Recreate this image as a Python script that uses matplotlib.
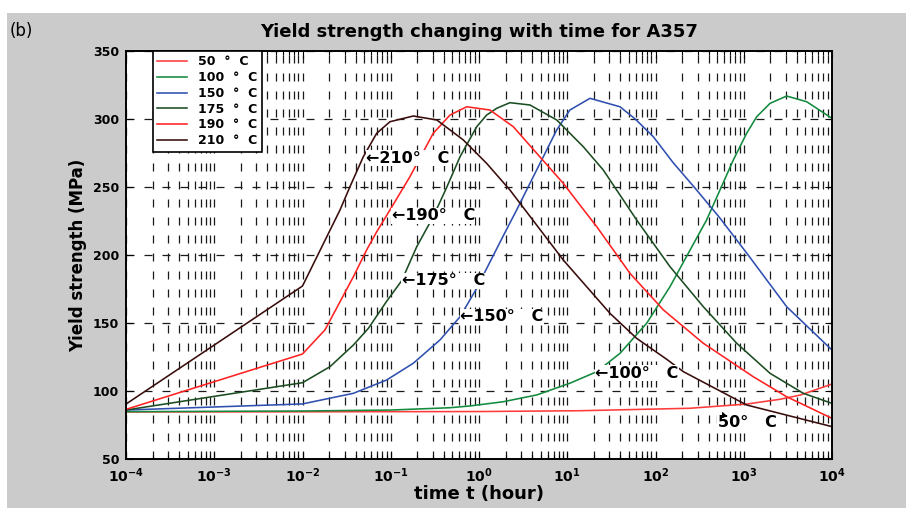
import matplotlib
matplotlib.use('Agg')
import matplotlib.pyplot as plt
from matplotlib.patches import Rectangle
from matplotlib.ticker import LogLocator, FixedLocator, NullFormatter

plt.rcParams['font.family'] = ['DejaVu Sans']
plt.rcParams['mathtext.fontset'] = 'dejavusans'

# ageing time (hours) and yield strength (MPa) for each temperature
t_50 = [1e-4, 0.01, 1, 14.0, 245, 1079, 2570, 4365, 1e4]
ys_50 = [84.6, 84.7, 84.9, 85.5, 87.3, 90.4, 93.9, 97.0, 105.1]

t_100 = [1e-4, 0.01, 0.1, 0.468, 0.791, 1.88, 4.51, 10.7, 21.6, 39.6, 79.4, 146,
         234, 379, 538, 762, 1079, 1403, 1986, 3062, 5164, 1e4]
ys_100 = [84.8, 85.3, 86.0, 87.7, 89.0, 92.1, 97.1, 105.7, 114.2, 127.7, 149.8, 176.7,
          201.0, 225.7, 247.8, 269.9, 289.5, 301.7, 311.5, 316.9, 312.7, 300.5]

t_150 = [1e-4, 0.01, 0.0377, 0.0899, 0.180, 0.361, 0.610, 0.942, 1.22, 1.88, 2.67, 3.78,
         5.36, 7.59, 10.7, 18.1, 39.6, 58.9, 94.4, 158, 282, 525, 1122, 3062, 1e4]
ys_150 = [86.0, 90.5, 98.3, 108.1, 120.4, 137.5, 154.6, 175.5, 190.0, 214.0, 233.1, 252.7,
          272.3, 291.9, 306.6, 315.2, 309.0, 300.0, 287.0, 268.0, 249.0, 228.0, 200.0, 162.0, 130.1]

t_175 = [1e-4, 0.01, 0.0205, 0.0377, 0.0557, 0.0899, 0.133, 0.197, 0.303, 0.431, 0.610, 0.942,
         1.22, 1.59, 2.24, 3.78, 7.59, 15.2, 25.6, 61.2, 146, 348, 832, 1986, 4732, 1e4]
ys_175 = [86.0, 106.1, 117.9, 133.8, 146.0, 166.0, 181.1, 206.1, 228.2, 249.8, 272.3, 294.3,
          302.9, 307.9, 312.0, 310.3, 299.3, 279.6, 262.5, 225.7, 191.4, 162.0, 135.1, 113.0,
          98.3, 90.9]

t_190 = [1e-4, 0.01, 0.0180, 0.0377, 0.0533, 0.0692, 0.102, 0.165, 0.303, 0.469, 0.726, 1.33,
         2.45, 4.51, 9.02, 13.9, 21.6, 51.4, 123, 348, 1282, 3062, 1e4]
ys_190 = [86.5, 127.2, 145.0, 184.0, 203.7, 217.0, 235.0, 257.6, 289.5, 302.9, 309.0, 306.6,
          294.3, 274.8, 252.7, 236.8, 220.8, 186.5, 159.6, 135.1, 110.5, 95.8, 79.9]

t_210 = [1e-4, 0.01, 0.0266, 0.0345, 0.0489, 0.0693, 0.0980, 0.180, 0.332, 0.664, 1.22, 2.24,
         9.02, 30.5, 61.2, 134, 207, 1080, 1e4]
ys_210 = [90.4, 177.2, 233.1, 250.2, 272.3, 289.5, 298.0, 302.2, 299.3, 284.6, 267.4, 247.8,
          196.3, 157.1, 138.7, 123.3, 114.2, 89.7, 73.8]

series = [
    ('50  °  C', t_50, ys_50, '#ff3b3b'),
    ('100  °  C', t_100, ys_100, '#138a3e'),
    ('150  °  C', t_150, ys_150, '#3050b0'),
    ('175  °  C', t_175, ys_175, '#1c4d22'),
    ('190  °  C', t_190, ys_190, '#ff2222'),
    ('210  °  C', t_210, ys_210, '#3a0c0c'),
]

fig = plt.figure(figsize=(9.06, 5.08), dpi=100, facecolor='white')
fig.patches.append(Rectangle((7 / 906, 0), 1, (508 - 13) / 508, transform=fig.transFigure,
                             facecolor='#cbcbcb', edgecolor='none', zorder=-10))

ax = fig.add_axes([126 / 906, 49 / 508, 706 / 906, 408 / 508])
ax.set_facecolor('white')

for label, t, ys, color in series:
    ax.plot(t, ys, color=color, lw=1.15, label=label, zorder=2)

ax.set_xscale('log')
ax.set_xlim(1e-4, 1e4)
ax.set_ylim(50, 350)

ax.xaxis.set_minor_locator(LogLocator(base=10, subs=range(2, 10), numticks=20))
ax.xaxis.set_minor_formatter(NullFormatter())
ax.set_xticks([10.0 ** k for k in range(-4, 5)])
ax.set_xticklabels([r'$\mathbf{10^{%d}}$' % k for k in range(-4, 5)])
ax.yaxis.set_major_locator(FixedLocator([50, 100, 150, 200, 250, 300, 350]))

# dashed grid on every decade subdivision, horizontal only on major ticks
grid_kw = dict(color='#1a1a1a', lw=0.9, linestyle=(0, (6.4, 8)))
ax.grid(True, which='both', axis='x', **grid_kw)
ax.grid(True, which='major', axis='y', **grid_kw)
ax.set_axisbelow(True)

ax.tick_params(which='both', direction='in', top=True, right=True, width=0.8)
ax.tick_params(which='major', length=5)
ax.tick_params(which='minor', length=3)
ax.tick_params(axis='x', pad=5, labelsize=10)
ax.tick_params(axis='y', pad=5, labelsize=9)
for lbl in ax.get_yticklabels():
    lbl.set_fontweight('bold')
for sp in ax.spines.values():
    sp.set_linewidth(1.4)
    sp.set_color('black')

ax.set_title('Yield strength changing with time for A357', fontsize=13, fontweight='bold', pad=10)
ax.set_xlabel('time t (hour)', fontsize=13, fontweight='bold', labelpad=0)
ax.set_ylabel('Yield strength (MPa)', fontsize=12, fontweight='bold', labelpad=4)
fig.text(10 / 906, 1 - 31 / 508, '(b)', fontsize=12, va='center', ha='left')

leg = ax.legend(loc='upper left', bbox_to_anchor=(0.038, 1.0), borderaxespad=0,
                frameon=True, fancybox=False, framealpha=1, edgecolor='black',
                prop=dict(weight='bold', size=9), handlelength=2.4, handletextpad=0.9,
                labelspacing=0.22, borderpad=0.35)
leg.get_frame().set_linewidth(1.2)

# curve labels
label_kw = dict(fontsize=11.5, fontweight='bold', va='center', ha='left', zorder=4,
                bbox=dict(facecolor='white', edgecolor='none', pad=0.3))
ax.text(0.0525, 271.3, '←210°   C', **label_kw)
ax.text(0.102, 228.7, '←190°   C', **label_kw)
ax.text(0.133, 181.1, '←175°   C', **label_kw)
ax.text(0.61, 154.6, '←150°   C', **label_kw)
ax.text(20.7, 113.0, '←100°   C', **label_kw)
ax.text(510, 76.5, '50°   C', **label_kw)
ax.annotate('', xy=(552, 86.5), xytext=(600, 81.5), zorder=4,
            arrowprops=dict(arrowstyle='-|>', color='black', lw=0.9, mutation_scale=7))

fig.savefig('out.png', dpi=100, facecolor=fig.get_facecolor())
